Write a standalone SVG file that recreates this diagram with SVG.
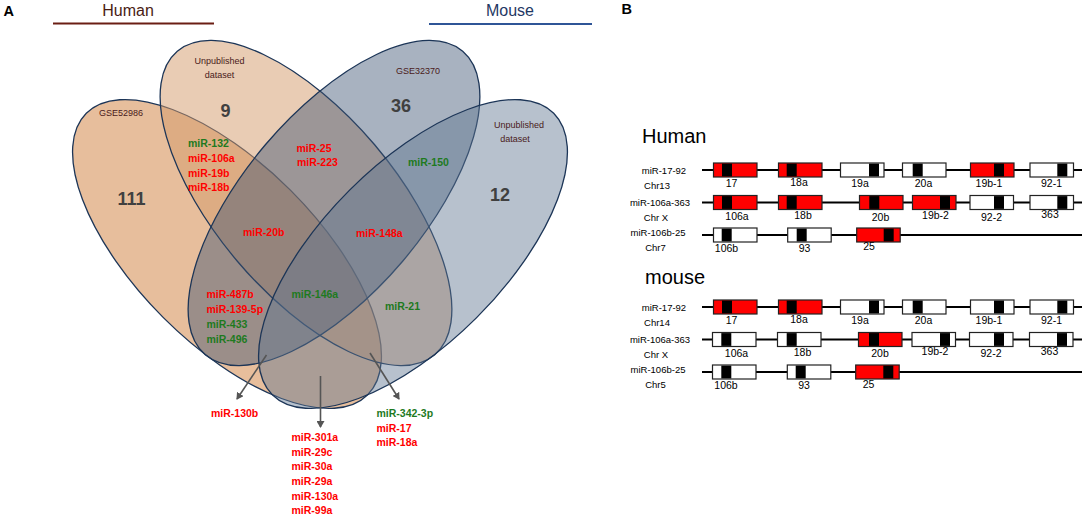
<svg xmlns="http://www.w3.org/2000/svg" width="1084" height="518" viewBox="0 0 1084 518">
<defs>
<style>
.pl{font-family:"Liberation Sans",Arial,sans-serif;font-weight:bold;font-size:14.5px;fill:#000}
.sp{font-family:"Liberation Sans",Arial,sans-serif;font-size:16px;text-anchor:middle}
.ds{font-family:"Liberation Sans",Arial,sans-serif;font-size:9px;fill:#4a1a1a;text-anchor:middle}
.cnt{font-family:"Liberation Sans",Arial,sans-serif;font-size:18px;font-weight:bold;fill:#404040;text-anchor:middle}
.mr{font-family:"Liberation Sans",Arial,sans-serif;font-size:10.5px;font-weight:bold}
.r{fill:#ff0000}
.g{fill:#1e7a1e}
.el{stroke:#1c3557;stroke-width:1.3}
.arr{stroke:#555;stroke-width:1.6;fill:none;marker-end:url(#ah)}
.rl{font-family:"Liberation Sans",Arial,sans-serif;font-size:9.5px;fill:#000;text-anchor:middle}
.sp2{font-family:"Liberation Sans",Arial,sans-serif;font-size:20px;fill:#000}
.gl{font-family:"Liberation Sans",Arial,sans-serif;font-size:10.5px;fill:#000;text-anchor:middle}
.chr{stroke:#000;stroke-width:2}
.bx{stroke:#222;stroke-width:1.2}
.rd{fill:#ff0000}
.wt{fill:#fff}
.bk{fill:#000}
</style>
<marker id="ah" markerWidth="8" markerHeight="8" refX="6" refY="4" orient="auto" markerUnits="userSpaceOnUse">
<path d="M0,0 L7,4 L0,8 z" fill="#555"/>
</marker>
</defs>
<rect width="1084" height="518" fill="#fff"/>

<text class="pl" x="3.5" y="16">A</text>
<text class="pl" x="621.5" y="14">B</text>

<g id="species-labels">
<text class="sp" x="128" y="16" fill="#4a1c14">Human</text>
<line x1="53" y1="23.5" x2="214" y2="23.5" stroke="#6b1e14" stroke-width="2"/>
<text class="sp" x="510" y="16" fill="#1f3864">Mouse</text>
<line x1="429" y1="24" x2="592" y2="24" stroke="#2f5597" stroke-width="2"/>
</g>

<g id="set-GSE52986">
<ellipse class="el" cx="227" cy="254" rx="199" ry="90" transform="rotate(45 227 254)" fill="#d4894a" fill-opacity="0.55"/>
</g>
<g id="set-unpub-human">
<ellipse class="el" cx="306" cy="203" rx="199" ry="90" transform="rotate(49.7 306 203)" fill="#d39a6a" fill-opacity="0.5"/>
</g>
<g id="set-GSE32370">
<ellipse class="el" cx="334" cy="203" rx="199" ry="90" transform="rotate(-49.7 334 203)" fill="#3f5573" fill-opacity="0.45"/>
</g>
<g id="set-unpub-mouse">
<ellipse class="el" cx="413" cy="254" rx="199" ry="90" transform="rotate(-45 413 254)" fill="#5f7590" fill-opacity="0.45"/>
</g>

<g id="set-labels">
<text class="ds" x="121" y="116">GSE52986</text>
<text class="ds" x="219.5" y="64">Unpublished</text>
<text class="ds" x="219.5" y="78">dataset</text>
<text class="ds" x="418" y="74">GSE32370</text>
<text class="ds" x="519" y="128">Unpublished</text>
<text class="ds" x="515" y="141.5">dataset</text>
<text class="cnt" x="131.5" y="205">111</text>
<text class="cnt" x="225.5" y="117">9</text>
<text class="cnt" x="401" y="112">36</text>
<text class="cnt" x="500" y="201">12</text>
</g>

<g id="region-labels" class="mr">
<text x="188" y="146.5" class="g">miR-132</text>
<text x="188" y="161.5" class="r">miR-106a</text>
<text x="188" y="176.5" class="r">miR-19b</text>
<text x="188" y="191" class="r">miR-18b</text>
<text x="296.5" y="151.5" class="r">miR-25</text>
<text x="297" y="165.5" class="r">miR-223</text>
<text x="408" y="166" class="g">miR-150</text>
<text x="243" y="236" class="r">miR-20b</text>
<text x="356" y="236.5" class="r">miR-148a</text>
<text x="206.5" y="298" class="r">miR-487b</text>
<text x="206.5" y="313" class="r">miR-139-5p</text>
<text x="206.5" y="328" class="g">miR-433</text>
<text x="206.5" y="343" class="g">miR-496</text>
<text x="291.5" y="298" class="g">miR-146a</text>
<text x="385" y="310" class="g">miR-21</text>
<text x="211" y="417" class="r">miR-130b</text>
<text x="376.5" y="417" class="g">miR-342-3p</text>
<text x="376.5" y="431.5" class="r">miR-17</text>
<text x="376.5" y="446" class="r">miR-18a</text>
<text x="291.5" y="440.5" class="r">miR-301a</text>
<text x="291.5" y="455.5" class="r">miR-29c</text>
<text x="291.5" y="470" class="r">miR-30a</text>
<text x="291.5" y="485" class="r">miR-29a</text>
<text x="291.5" y="499.5" class="r">miR-130a</text>
<text x="291.5" y="514" class="r">miR-99a</text>
</g>

<g id="connectors">
<line class="arr" x1="266.5" y1="355" x2="237" y2="399"/>
<line class="arr" x1="320.5" y1="376" x2="320.5" y2="427"/>
<line class="arr" x1="370" y1="353" x2="399" y2="399"/>
</g>

<!-- Panel B -->
<g id="human-title"><text class="sp2" x="642" y="143">Human</text></g>
<g id="mouse-title"><text class="sp2" x="645" y="284">mouse</text></g>

<g id="h-mir-17-92">
<text class="rl" x="664" y="173.5">miR-17-92</text>
<text class="rl" x="657" y="188.5">Chr13</text>
<line class="chr" x1="702" y1="170" x2="1082" y2="170"/>
<rect class="bx rd" x="713.5" y="163" width="43.5" height="14"/><rect class="bk" x="722" y="163.6" width="10" height="12.8"/>
<rect class="bx rd" x="778.5" y="163" width="43.5" height="14"/><rect class="bk" x="786.7" y="163.6" width="10" height="12.8"/>
<rect class="bx wt" x="840.5" y="163" width="43.5" height="14"/><rect class="bk" x="869" y="163.6" width="10" height="12.8"/>
<rect class="bx wt" x="902.5" y="163" width="43.5" height="14"/><rect class="bk" x="912.7" y="163.6" width="10" height="12.8"/>
<rect class="bx rd" x="970.5" y="163" width="43.5" height="14"/><rect class="bk" x="994" y="163.6" width="10" height="12.8"/>
<rect class="bx wt" x="1030" y="163" width="43.5" height="14"/><rect class="bk" x="1057.3" y="163.6" width="10" height="12.8"/>
<text class="gl" x="731.5" y="187">17</text>
<text class="gl" x="799" y="186">18a</text>
<text class="gl" x="860" y="187">19a</text>
<text class="gl" x="923.5" y="187">20a</text>
<text class="gl" x="989" y="187">19b-1</text>
<text class="gl" x="1051.5" y="187">92-1</text>
</g>

<g id="h-mir-106a-363">
<text class="rl" x="660" y="206">miR-106a-363</text>
<text class="rl" x="656" y="220.5">Chr X</text>
<line class="chr" x1="702" y1="202.5" x2="1082" y2="202.5"/>
<rect class="bx rd" x="713.5" y="195.5" width="43.5" height="14"/><rect class="bk" x="722" y="196.1" width="10" height="12.8"/>
<rect class="bx rd" x="778.5" y="195.5" width="43.5" height="14"/><rect class="bk" x="786.7" y="196.1" width="10" height="12.8"/>
<rect class="bx rd" x="859.5" y="195.5" width="43.5" height="14"/><rect class="bk" x="869.3" y="196.1" width="10" height="12.8"/>
<rect class="bx rd" x="912.5" y="195.5" width="43.5" height="14"/><rect class="bk" x="940" y="196.1" width="10" height="12.8"/>
<rect class="bx wt" x="970" y="195.5" width="43.5" height="14"/><rect class="bk" x="994" y="196.1" width="10" height="12.8"/>
<rect class="bx wt" x="1030" y="195.5" width="43.5" height="14"/><rect class="bk" x="1057.3" y="196.1" width="10" height="12.8"/>
<text class="gl" x="737" y="220">106a</text>
<text class="gl" x="803" y="218.5">18b</text>
<text class="gl" x="880.5" y="220.5">20b</text>
<text class="gl" x="935.5" y="218.5">19b-2</text>
<text class="gl" x="991.5" y="220.5">92-2</text>
<text class="gl" x="1050" y="218">363</text>
</g>

<g id="h-mir-106b-25">
<text class="rl" x="658" y="236">miR-106b-25</text>
<text class="rl" x="655.5" y="251">Chr7</text>
<line class="chr" x1="702" y1="235" x2="1082" y2="235"/>
<rect class="bx wt" x="713.5" y="228" width="43.5" height="14"/><rect class="bk" x="721.7" y="228.6" width="10" height="12.8"/>
<rect class="bx wt" x="787.7" y="228" width="43.5" height="14"/><rect class="bk" x="796.7" y="228.6" width="10" height="12.8"/>
<rect class="bx rd" x="856.7" y="228" width="43.5" height="14"/><rect class="bk" x="883.7" y="228.6" width="10" height="12.8"/>
<text class="gl" x="726.5" y="251.5">106b</text>
<text class="gl" x="804.5" y="251.5">93</text>
<text class="gl" x="869" y="250">25</text>
</g>

<g id="m-mir-17-92">
<text class="rl" x="664" y="310.5">miR-17-92</text>
<text class="rl" x="657" y="325.5">Chr14</text>
<line class="chr" x1="702" y1="307" x2="1082" y2="307"/>
<rect class="bx rd" x="713.5" y="300" width="43.5" height="14"/><rect class="bk" x="722" y="300.6" width="10" height="12.8"/>
<rect class="bx rd" x="778.5" y="300" width="43.5" height="14"/><rect class="bk" x="786.7" y="300.6" width="10" height="12.8"/>
<rect class="bx wt" x="840.5" y="300" width="43.5" height="14"/><rect class="bk" x="869" y="300.6" width="10" height="12.8"/>
<rect class="bx wt" x="902.5" y="300" width="43.5" height="14"/><rect class="bk" x="912.7" y="300.6" width="10" height="12.8"/>
<rect class="bx wt" x="970.5" y="300" width="43.5" height="14"/><rect class="bk" x="994" y="300.6" width="10" height="12.8"/>
<rect class="bx wt" x="1030" y="300" width="43.5" height="14"/><rect class="bk" x="1057.3" y="300.6" width="10" height="12.8"/>
<text class="gl" x="731.5" y="324">17</text>
<text class="gl" x="799" y="323">18a</text>
<text class="gl" x="860" y="324">19a</text>
<text class="gl" x="923.5" y="324">20a</text>
<text class="gl" x="989" y="324">19b-1</text>
<text class="gl" x="1051.5" y="324">92-1</text>
</g>

<g id="m-mir-106a-363">
<text class="rl" x="660" y="343">miR-106a-363</text>
<text class="rl" x="656" y="357.5">Chr X</text>
<line class="chr" x1="702" y1="339.5" x2="1082" y2="339.5"/>
<rect class="bx wt" x="712.5" y="332.5" width="43.5" height="14"/><rect class="bk" x="721.3" y="333.1" width="10" height="12.8"/>
<rect class="bx wt" x="777.5" y="332.5" width="43.5" height="14"/><rect class="bk" x="786.7" y="333.1" width="10" height="12.8"/>
<rect class="bx rd" x="858.5" y="332.5" width="43.5" height="14"/><rect class="bk" x="869" y="333.1" width="10" height="12.8"/>
<rect class="bx wt" x="912" y="332.5" width="43.5" height="14"/><rect class="bk" x="940" y="333.1" width="10" height="12.8"/>
<rect class="bx wt" x="969.5" y="332.5" width="43.5" height="14"/><rect class="bk" x="994" y="333.1" width="10" height="12.8"/>
<rect class="bx wt" x="1029.5" y="332.5" width="43.5" height="14"/><rect class="bk" x="1057" y="333.1" width="10" height="12.8"/>
<text class="gl" x="736.5" y="357">106a</text>
<text class="gl" x="802.5" y="355.5">18b</text>
<text class="gl" x="880" y="357">20b</text>
<text class="gl" x="935" y="354.5">19b-2</text>
<text class="gl" x="991" y="357">92-2</text>
<text class="gl" x="1049.5" y="354.5">363</text>
</g>

<g id="m-mir-106b-25">
<text class="rl" x="658" y="373">miR-106b-25</text>
<text class="rl" x="655.5" y="388">Chr5</text>
<line class="chr" x1="702" y1="372" x2="1082" y2="372"/>
<rect class="bx wt" x="712.5" y="365" width="43.5" height="14"/><rect class="bk" x="721.3" y="365.6" width="10" height="12.8"/>
<rect class="bx wt" x="787.3" y="365" width="43.5" height="14"/><rect class="bk" x="795.7" y="365.6" width="10" height="12.8"/>
<rect class="bx rd" x="855.7" y="365" width="43.5" height="14"/><rect class="bk" x="883.3" y="365.6" width="10" height="12.8"/>
<text class="gl" x="726" y="389">106b</text>
<text class="gl" x="804" y="389">93</text>
<text class="gl" x="868.5" y="387.5">25</text>
</g>
</svg>
